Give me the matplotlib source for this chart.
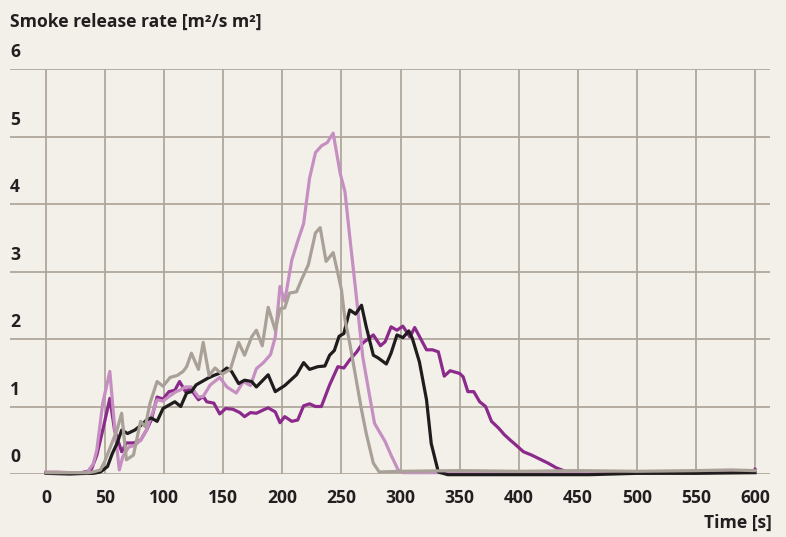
import matplotlib

matplotlib.use("Agg")
import matplotlib.pyplot as plt

# ── Data (time [s], smoke release rate [m²/s m²]) ──
t_lilac = [0, 10, 20, 30, 35, 40, 43, 48, 54, 58, 62, 65, 70, 75, 80, 85, 90, 94,
           99, 105, 110, 113, 118, 123, 129, 133, 139, 147, 153, 161, 167, 173,
           178, 184, 190, 194, 198, 202, 208, 213, 218, 223, 228, 233, 238, 243,
           249, 253, 257, 262, 268, 273, 278, 287, 292, 298, 302, 350, 400, 450,
           500, 550, 600]
v_lilac = [0.03, 0.03, 0.02, 0.02, 0.03, 0.15, 0.36, 1.05, 1.52, 0.70, 0.06, 0.26,
           0.40, 0.42, 0.50, 0.65, 0.90, 1.10, 1.08, 1.16, 1.22, 1.24, 1.29, 1.29,
           1.14, 1.15, 1.32, 1.43, 1.29, 1.20, 1.37, 1.31, 1.56, 1.65, 1.77, 2.03,
           2.78, 2.56, 3.17, 3.45, 3.71, 4.38, 4.76, 4.86, 4.91, 5.05, 4.45, 4.18,
           3.52, 2.73, 1.74, 1.24, 0.75, 0.48, 0.28, 0.06, 0.02, 0.02, 0.03, 0.02,
           0.03, 0.02, 0.03]

t_grey = [0, 20, 35, 40, 46, 50, 54, 60, 64, 68, 74, 80, 84, 88, 94, 99, 105, 111,
          116, 119, 123, 129, 133, 138, 143, 149, 156, 163, 168, 174, 178, 183,
          188, 194, 198, 202, 206, 212, 216, 222, 228, 232, 237, 243, 247, 250,
          253, 257, 267, 271, 277, 282, 300, 350, 400, 450, 500, 550, 580, 600]
v_grey = [0.02, 0.02, 0.02, 0.03, 0.06, 0.20, 0.38, 0.65, 0.90, 0.21, 0.28, 0.78,
          0.70, 1.05, 1.37, 1.30, 1.43, 1.46, 1.52, 1.59, 1.79, 1.55, 1.95, 1.46,
          1.57, 1.48, 1.55, 1.95, 1.76, 2.03, 2.13, 1.90, 2.47, 2.13, 2.45, 2.46,
          2.68, 2.70, 2.87, 3.10, 3.57, 3.65, 3.15, 3.28, 2.97, 2.73, 2.29, 1.94,
          0.95, 0.60, 0.16, 0.03, 0.04, 0.05, 0.04, 0.05, 0.04, 0.05, 0.06, 0.05]

t_black = [0, 20, 35, 40, 46, 52, 56, 60, 64, 69, 75, 81, 85, 89, 94, 99, 104, 109,
           114, 119, 123, 127, 133, 137, 142, 148, 153, 157, 163, 168, 174, 178,
           188, 194, 202, 212, 218, 223, 230, 236, 240, 244, 248, 252, 257, 262,
           267, 271, 277, 281, 288, 292, 297, 302, 307, 310, 316, 322, 326, 332,
           340, 400, 460, 500, 550, 600]
v_black = [0.01, 0.0, 0.01, 0.01, 0.03, 0.11, 0.30, 0.45, 0.65, 0.60, 0.65, 0.73,
           0.80, 0.83, 0.78, 0.97, 1.02, 1.07, 1.00, 1.20, 1.22, 1.32, 1.38, 1.42,
           1.46, 1.50, 1.57, 1.52, 1.34, 1.39, 1.37, 1.29, 1.47, 1.22, 1.31, 1.47,
           1.65, 1.55, 1.59, 1.60, 1.76, 1.83, 2.04, 2.08, 2.43, 2.37, 2.50, 2.18,
           1.76, 1.72, 1.63, 1.79, 2.06, 2.02, 2.12, 2.01, 1.66, 1.10, 0.45, 0.03,
           -0.01, -0.01, -0.01, 0.01, 0.01, 0.02]

t_purple = [0, 30, 38, 43, 48, 54, 58, 64, 68, 74, 80, 85, 89, 94, 99, 104, 109,
            113, 118, 122, 129, 133, 136, 142, 147, 152, 158, 164, 168, 173, 178,
            184, 188, 194, 198, 202, 208, 213, 218, 223, 228, 233, 240, 247, 252,
            257, 263, 268, 277, 283, 287, 292, 297, 302, 308, 312, 322, 327, 332,
            337, 342, 350, 353, 357, 362, 367, 372, 377, 383, 388, 393, 397, 404,
            411, 418, 425, 432, 438, 445, 500, 550, 598, 600]
v_purple = [0.02, 0.02, 0.05, 0.28, 0.65, 1.12, 0.65, 0.33, 0.46, 0.46, 0.50, 0.65,
            0.80, 1.14, 1.11, 1.22, 1.24, 1.37, 1.22, 1.27, 1.10, 1.15, 1.07, 1.05,
            0.89, 0.97, 0.96, 0.91, 0.85, 0.91, 0.90, 0.95, 0.98, 0.92, 0.76, 0.85,
            0.78, 0.80, 1.01, 1.04, 1.00, 1.00, 1.32, 1.59, 1.57, 1.69, 1.81, 1.94,
            2.06, 1.90, 1.96, 2.18, 2.13, 2.19, 2.03, 2.17, 1.84, 1.84, 1.81, 1.45,
            1.53, 1.49, 1.44, 1.22, 1.22, 1.07, 1.00, 0.78, 0.68, 0.58, 0.50, 0.44,
            0.33, 0.28, 0.22, 0.16, 0.09, 0.05, 0.02, 0.02, 0.03, 0.03, 0.07]

x_ticks = list(range(0, 601, 50))
y_ticks = [0, 1, 2, 3, 4, 5, 6]

# ── Style ──
BG = "#f3f0ea"
GRID = "#b0a79c"
TEXT = "#231f20"
COLORS = {
    "lilac":  "#c68fc1",
    "grey":   "#a9a097",
    "black":  "#1f1c1d",
    "purple": "#8c2a8b",
}
WEIGHT = "bold"
FS = 12.6
plt.rcParams.update({
    "font.family": ["Open Sans", "DejaVu Sans"],
    "font.size": FS,
    "text.color": TEXT,
})

fig = plt.figure(figsize=(7.86, 5.37), dpi=100, facecolor=BG)
ax = fig.add_axes([10 / 786, 1 - 474 / 537, 760 / 786, (474 - 69) / 537])
ax.set_facecolor(BG)

lw = 2.3
ax.plot(t_purple, v_purple, color=COLORS["purple"], lw=lw, zorder=3, clip_on=False)
ax.plot(t_lilac, v_lilac, color=COLORS["lilac"], lw=lw, zorder=4, clip_on=False)
ax.plot(t_black, v_black, color=COLORS["black"], lw=lw, zorder=5, clip_on=False)
ax.plot(t_grey, v_grey, color=COLORS["grey"], lw=lw, zorder=6, clip_on=False)

ax.set_xlim(-30.5, 612.7)
ax.set_ylim(0, 6)
for s in ax.spines.values():
    s.set_visible(False)

ax.set_xticks(x_ticks)
ax.set_xticklabels([str(t) for t in x_ticks], fontweight=WEIGHT, color=TEXT)
ax.set_yticks(y_ticks)
ax.set_yticklabels([])
ax.tick_params(axis="both", length=0)
ax.tick_params(axis="x", pad=11, labelsize=FS)
ax.grid(True, color=GRID, lw=1.3, zorder=0)
ax.set_axisbelow(True)

# y tick labels sit above their grid line at the left edge
for v in y_ticks:
    ax.annotate(str(v), xy=(0, v), xycoords=("axes fraction", "data"),
                xytext=(0, 12), textcoords="offset points",
                ha="left", va="center", fontsize=FS, fontweight=WEIGHT)

fig.text(10 / 786, 1 - 22 / 537, "Smoke release rate [m²/s m²]",
         ha="left", va="center", fontsize=FS, fontweight=WEIGHT)
fig.text(772 / 786, 1 - 523 / 537, "Time [s]",
         ha="right", va="center", fontsize=FS, fontweight=WEIGHT)

fig.savefig("out.png", dpi=100, facecolor=BG)
